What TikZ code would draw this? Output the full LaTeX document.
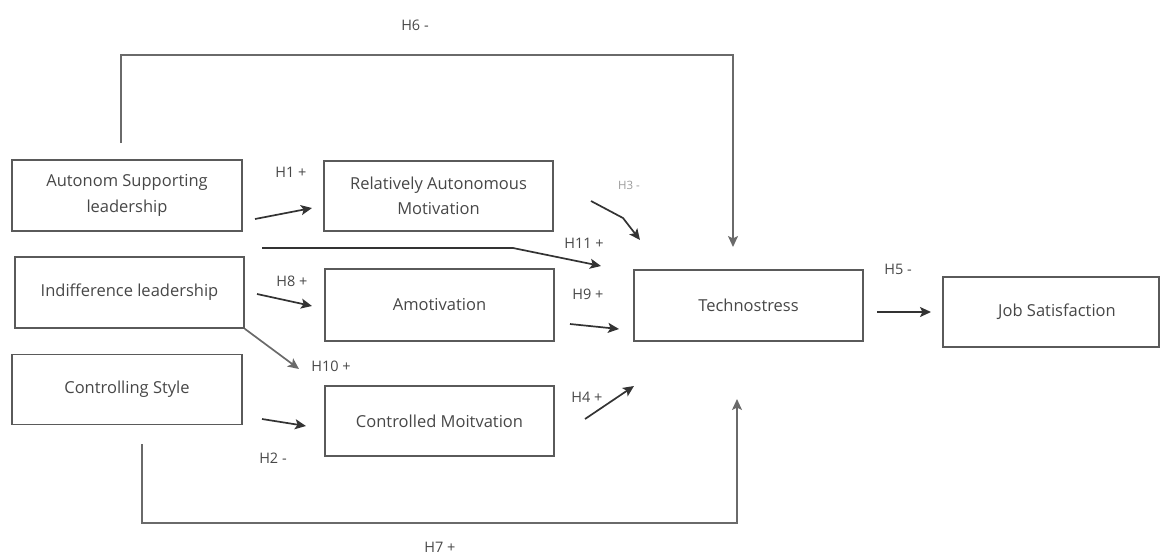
\documentclass[tikz,border=0pt]{standalone}
\usepackage{fontspec}
\setmainfont{Open Sans}
\usetikzlibrary{arrows.meta}
\definecolor{txt}{HTML}{474747}
\definecolor{edge}{HTML}{5A5A5A}
\definecolor{arr}{HTML}{333333}
\definecolor{lng}{HTML}{6A6A6A}
\definecolor{faint}{HTML}{9A9A9A}
\begin{document}
\begin{tikzpicture}[x=1pt,y=-1pt,
  box/.style={draw=edge, line width=1.6pt, minimum width=229pt, minimum height=70pt,
    inner sep=0pt, align=center, font=\fontsize{16.5}{25.5}\selectfont, text=txt},
  lbl/.style={font=\fontsize{14.5}{16}\selectfont, text=txt, inner sep=0pt},
  smalllbl/.style={font=\fontsize{11.5}{13}\selectfont, text=faint, inner sep=0pt},
  tip/.style={-{Stealth[length=11pt,width=10pt,inset=2.5pt]}},
  arrow/.style={draw=arr, line width=1.7pt, tip},
  longarrow/.style={draw=lng, line width=1.7pt, tip, line join=miter}]
\useasboundingbox (0,0) rectangle (1161,558);

% boxes
\node[box, minimum width=230pt, minimum height=71pt] (A) at (127,195.5) {Autonom Supporting\\leadership};
\node[box, minimum height=71pt] (I) at (129.5,292.5) {Indifference leadership};
\node[box, minimum width=230pt] (C) at (127,389.5) {Controlling Style};
\node[box] (R) at (438.5,196) {Relatively Autonomous\\Motivation};
\node[box, minimum height=72pt] (Am) at (439.5,305) {Amotivation};
\node[box] (CM) at (439.5,421) {Controlled Moitvation};
\node[box, minimum height=71pt] (T) at (748.5,305.5) {Technostress};
\node[box, minimum width=216pt] (J) at (1051,312) {\hspace*{12pt}Job Satisfaction};

% free ends of the connectors
\coordinate (h1s) at (255,219);  \coordinate (h1e) at (312,208);
\coordinate (h8s) at (257,294);  \coordinate (h8e) at (312,306);
\coordinate (h2s) at (262,419);  \coordinate (h2e) at (306,426);
\coordinate (h10e) at (299,369);
\coordinate (h11s) at (262,248); \coordinate (h11m) at (513,248); \coordinate (h11e) at (601,266);
\coordinate (h3s) at (591,201);  \coordinate (h3m) at (623,218);  \coordinate (h3e) at (640,240);
\coordinate (h9s) at (570,324);  \coordinate (h9e) at (619,329);
\coordinate (h4s) at (585,419);  \coordinate (h4e) at (634,386);
\coordinate (h5s) at (877,312);  \coordinate (h5e) at (931,312);
\coordinate (h6s) at (121,143);  \coordinate (h6a) at (121,55); \coordinate (h6b) at (733,55); \coordinate (h6e) at (733,247);
\coordinate (h7s) at (142,444);  \coordinate (h7a) at (142,523); \coordinate (h7b) at (737,523); \coordinate (h7e) at (737,399);

% connectors
\draw[arrow] (h1s) -- (h1e);
\draw[arrow] (h8s) -- (h8e);
\draw[arrow] (h2s) -- (h2e);
\draw[arrow, draw=lng] (I.south east) -- (h10e);
\draw[arrow] (h11s) -- (h11m) -- (h11e);
\draw[arrow] (h3s) -- (h3m) -- (h3e);
\draw[arrow] (h9s) -- (h9e);
\draw[arrow] (h4s) -- (h4e);
\draw[arrow] (h5s) -- (h5e);
\draw[longarrow] (h6s) -- (h6a) -- (h6b) -- (h6e);
\draw[longarrow] (h7s) -- (h7a) -- (h7b) -- (h7e);

% labels
\node[lbl] (l1) at (291,172) {H1 +};
\node[lbl] (l8) at (292,281) {H8 +};
\node[lbl] (l10) at (331,366) {H10 +};
\node[lbl] (l2) at (273,458) {H2 -};
\node[lbl] (l11) at (584,243) {H11 +};
\node[smalllbl] (l3) at (629,185) {H3 -};
\node[lbl] (l9) at (588,294) {H9 +};
\node[lbl] (l4) at (587,397) {H4 +};
\node[lbl] (l5) at (898,269) {H5 -};
\node[lbl] (l6) at (415,25) {H6 -};
\node[lbl] (l7) at (440,547) {H7 +};
\end{tikzpicture}
\end{document}
